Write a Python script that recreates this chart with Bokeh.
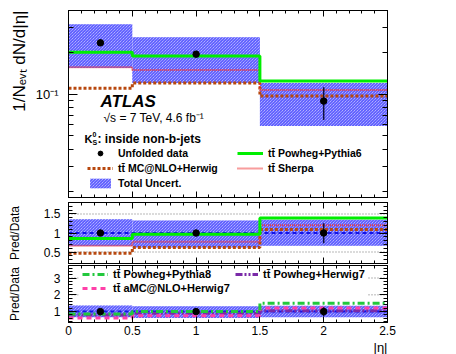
from bokeh.plotting import figure
from bokeh.layouts import column
from bokeh.models import (LinearAxis, LogAxis, FixedTicker, Label, Legend,
                          LegendItem, Span, BoxAnnotation, Range1d, Title)
from bokeh.embed import file_html
from bokeh.resources import INLINE
import math

# ---------------- data ----------------
eta_edges = [0.0, 0.5, 1.5, 2.5]
eta_centers = [0.25, 1.0, 2.0]
data = [0.234, 0.194, 0.089]
data_err_lo = [0.012, 0.010, 0.024]
data_err_hi = [0.012, 0.010, 0.023]
unc_lo = [0.154, 0.120, 0.059]
unc_hi = [0.319, 0.257, 0.120]
powheg_pythia6 = [0.200, 0.188, 0.124]
mcnlo_herwig = [0.110, 0.120, 0.097]
sherpa = [0.156, 0.149, 0.107]
# predictions shown only as ratios (lower panel)
r_powheg_pythia8 = [0.85, 1.00, 1.50]
r_amcnlo_herwig7 = [0.62, 0.75, 1.22]
r_powheg_herwig7 = [0.80, 0.90, 1.05]

x_major = [0, 0.5, 1, 1.5, 2, 2.5]
x_labels = {0: "0", 0.5: "0.5", 1: "1", 1.5: "1.5", 2: "2", 2.5: "2.5"}
y_main_major = [0.1]
y_main_minor = [0.02, 0.03, 0.04, 0.05, 0.06, 0.07, 0.08, 0.09, 0.2, 0.3, 0.4]
y_main_labels = {0.1: "10\u207b\u00b9"}
y_r1_major = [0.5, 1, 1.5]
y_r1_labels = {0.5: "0.5", 1: "1", 1.5: "1.5"}
y_r2_major = [1, 2, 3]
y_r2_labels = {1: "1", 2: "2", 3: "3"}

TT = "tt\u0304"
FONT = "Liberation Sans"
Y_TITLE = "1/N\u2091\u1d65\u209c dN/d|\u03b7|"
RATIO_TITLE = "Pred/Data"
X_TITLE = "|\u03b7|"

C_BAND_FILL = "#dadaff"
C_BAND_HATCH = "#3a3aff"
C_PY6 = "#00ee00"
C_MC = "#b8480e"
C_SH = "#f03a3a"
C_BLUE = "#1414e6"
C_PY8 = "#22c83c"
C_AMC = "#ff40a8"
C_PH7 = "#7a2aa8"
C_GRAY = "#a0a0a0"

# layout (page pixels)
FR_L, FR_R = 68, 387
M_TOP, M_BOT = 10, 197
R1_TOP, R1_BOT = 202, 263
R2_TOP, R2_BOT = 265, 325
XR = (0.0, 2.5)
YM = (0.018, 0.4)
YR1 = (0.2, 1.8)
YR2 = (0.35, 3.75)


def stepy(vals):
    v = list(vals)
    return v + [v[-1]]


def ratio(vals):
    return [v / d for v, d in zip(vals, data)]


# helpers that turn a page-pixel placement into axis units (text placement only)
def fx(px):
    return XR[0] + (px - FR_L) / (FR_R - FR_L) * (XR[1] - XR[0])


def fy_log(py):
    l0, l1 = math.log10(YM[0]), math.log10(YM[1])
    return 10 ** (l1 - (py - M_TOP) / (M_BOT - M_TOP) * (l1 - l0))


def fy_lin(py, top, bot, rng):
    return rng[1] - (py - top) / (bot - top) * (rng[1] - rng[0])


x_minor = [round(0.1 * i, 1) for i in range(26)]
xr = Range1d(*XR)


def base_fig(height, y_range, top, bottom, log=False):
    p = figure(width=456, height=height, x_range=xr, y_range=y_range,
               y_axis_type="log" if log else "linear", title=None,
               output_backend="svg", toolbar_location=None,
               min_border_left=FR_L, min_border_right=456 - FR_R,
               min_border_top=top, min_border_bottom=bottom)
    p.grid.visible = False
    p.outline_line_color = "black"
    p.outline_line_width = 1
    p.background_fill_color = "white"
    p.border_fill_color = "white"
    return p


def style_axis(ax, ticker, major_in, minor_in, labels=None, size="12px", standoff=3):
    ax.ticker = ticker
    ax.major_tick_in = major_in
    ax.major_tick_out = 0
    ax.minor_tick_in = minor_in
    ax.minor_tick_out = 0
    ax.axis_line_color = "black"
    ax.major_tick_line_color = "black"
    ax.minor_tick_line_color = "black"
    if labels is not None:
        ax.major_label_overrides = labels
        ax.major_label_text_font = FONT
        ax.major_label_text_font_size = size
        ax.major_label_text_color = "black"
        ax.major_label_standoff = standoff
    else:
        ax.major_label_text_font_size = "1px"
        ax.major_label_text_alpha = 0
        ax.major_label_standoff = 0


def add_frame_axes(p, yticker, ymaj, ymin, ylabels, xlabels=None, log=False, ysize="12px", ystand=8):
    xt = FixedTicker(ticks=x_major, minor_ticks=x_minor)
    style_axis(p.xaxis[0], xt, 6, 3, xlabels, "12px", 3)
    style_axis(p.yaxis[0], yticker, ymaj, ymin, ylabels, ysize, ystand)
    top = LinearAxis()
    style_axis(top, FixedTicker(ticks=x_major, minor_ticks=x_minor), 6, 3, None)
    p.add_layout(top, "above")
    right = LogAxis() if log else LinearAxis()
    style_axis(right, yticker, ymaj, ymin, None)
    p.add_layout(right, "right")


def set_ylabel(p, text, standoff):
    ax = p.yaxis[0]
    ax.axis_label = text
    ax.axis_label_text_font = FONT
    ax.axis_label_text_font_size = "12px"
    ax.axis_label_text_font_style = "normal"
    ax.axis_label_text_color = "black"
    ax.axis_label_standoff = standoff


def mk_label(p, text, x, y, size, style="normal", align="left", angle=0.0, baseline="middle"):
    p.add_layout(Label(x=x, y=y, text=text,
                       text_font=FONT, text_font_size=size, text_font_style=style,
                       text_align=align, text_baseline=baseline, angle=angle,
                       text_color="black"))


def mk_legend(p, items, x, y, size, gw, gh, spacing):
    # location = bottom-left corner of the legend, in px from the frame's bottom-left
    lg = Legend(items=items, location=(x, y), orientation="vertical",
                padding=0, margin=0, spacing=spacing,
                glyph_width=gw, glyph_height=gh, label_height=gh,
                label_standoff=5, label_text_font=FONT,
                label_text_font_size=size, label_text_font_style="bold",
                label_text_color="black",
                border_line_alpha=0, background_fill_alpha=0)
    p.add_layout(lg)
    return lg


band_kw = dict(fill_color=C_BAND_FILL, line_alpha=0, hatch_pattern="\\",
               hatch_color=C_BAND_HATCH, hatch_scale=3.0, hatch_weight=1.0)
err_kw = dict(line_color="#101040", line_width=1.5)

# ---------------- main panel ----------------
p1 = base_fig(199, Range1d(*YM), M_TOP, 2, log=True)
add_frame_axes(p1, FixedTicker(ticks=y_main_major, minor_ticks=y_main_minor), 9, 5,
               y_main_labels, None, log=True, ysize="13px", ystand=10)
p1.add_layout(Title(text=Y_TITLE, align="right", text_font=FONT, text_font_size="17px",
                    text_font_style="normal", text_color="black", standoff=8), "left")

r_band = p1.quad(left=eta_edges[:-1], right=eta_edges[1:], bottom=unc_lo, top=unc_hi, **band_kw)
r_mc = p1.step(x=eta_edges, y=stepy(mcnlo_herwig), mode="after", line_color=C_MC, line_width=3, line_dash="3 2")
r_sh = p1.step(x=eta_edges, y=stepy(sherpa), mode="after", line_color=C_SH, line_width=2, line_dash="1 1")
r_py6 = p1.step(x=eta_edges, y=stepy(powheg_pythia6), mode="after", line_color=C_PY6, line_width=3)
p1.segment(x0=eta_centers, x1=eta_centers,
           y0=[d - e for d, e in zip(data, data_err_lo)],
           y1=[d + e for d, e in zip(data, data_err_hi)], **err_kw)
r_data = p1.scatter(x=eta_centers, y=data, size=6.5, color="black")

mk_legend(p1, [LegendItem(label="Unfolded data", renderers=[r_data]),
               LegendItem(label=TT + " MC@NLO+Herwig", renderers=[r_mc]),
               LegendItem(label="Total Uncert.", renderers=[r_band])],
          87 - FR_L, M_BOT - 189, "10.5px", 26, 12, 3)
mk_legend(p1, [LegendItem(label=TT + " Powheg+Pythia6", renderers=[r_py6]),
               LegendItem(label=TT + " Sherpa", renderers=[r_sh])],
          237 - FR_L, M_BOT - 174, "10.5px", 26, 12, 3)

mk_label(p1, "ATLAS", fx(100), fy_log(101), "17px", "bold italic")
mk_label(p1, "\u221as = 7 TeV, 4.6 fb\u207b\u00b9", fx(103), fy_log(117), "12px")
mk_label(p1, "K", fx(84), fy_log(138), "11px", "bold")
mk_label(p1, "0", fx(92), fy_log(134), "7px", "bold")
mk_label(p1, "S", fx(92), fy_log(142), "7px", "bold")
mk_label(p1, ": inside non-b-jets", fx(97), fy_log(138), "12px", "bold")

# ---------------- ratio panel 1 ----------------
p2 = base_fig(65, Range1d(*YR1), R1_TOP - 199, 1)
add_frame_axes(p2, FixedTicker(ticks=y_r1_major, minor_ticks=[round(0.1 * i, 1) for i in range(2, 19)]),
               8, 4, y_r1_labels, None, ysize="12px", ystand=8)
set_ylabel(p2, RATIO_TITLE, 19)
for loc in (1.5, 0.5):
    p2.add_layout(Span(location=loc, dimension="width", line_color=C_GRAY,
                       line_dash="1 2", line_width=1.5, level="underlay"))
p2.quad(left=eta_edges[:-1], right=eta_edges[1:], bottom=ratio(unc_lo), top=ratio(unc_hi), **band_kw)
p2.step(x=eta_edges, y=stepy(ratio(data)), mode="after", line_color=C_BLUE, line_width=2, line_dash="4 3")
p2.step(x=eta_edges, y=stepy(ratio(mcnlo_herwig)), mode="after", line_color=C_MC, line_width=3, line_dash="3 2")
p2.step(x=eta_edges, y=stepy(ratio(sherpa)), mode="after", line_color=C_SH, line_width=2, line_dash="1 1")
p2.step(x=eta_edges, y=stepy(ratio(powheg_pythia6)), mode="after", line_color=C_PY6, line_width=3)
p2.segment(x0=eta_centers, x1=eta_centers,
           y0=[1 - e / d for d, e in zip(data, data_err_lo)],
           y1=[1 + e / d for d, e in zip(data, data_err_hi)], **err_kw)
p2.scatter(x=eta_centers, y=ratio(data), size=6.5, color="black")

# ---------------- ratio panel 2 ----------------
p3 = base_fig(90, Range1d(*YR2), R2_TOP - 264, 354 - R2_BOT)
add_frame_axes(p3, FixedTicker(ticks=y_r2_major, minor_ticks=[round(0.2 * i, 1) for i in range(2, 19)]),
               8, 4, y_r2_labels, x_labels, ysize="12px", ystand=8)
set_ylabel(p3, RATIO_TITLE, 29)
p3.add_layout(Title(text=X_TITLE, align="right", text_font=FONT, text_font_size="13px",
                    text_font_style="normal", text_color="black", standoff=0), "below")
for loc in (3, 2):
    p3.add_layout(Span(location=loc, dimension="width", line_color=C_GRAY,
                       line_dash="1 2", line_width=1.5, level="underlay"))
p3.add_layout(BoxAnnotation(left=fx(78), right=fx(367),
                            bottom=fy_lin(301, R2_TOP, R2_BOT, YR2),
                            top=fy_lin(267, R2_TOP, R2_BOT, YR2),
                            fill_color="white", fill_alpha=1.0, line_alpha=0,
                            level="underlay"))
p3.quad(left=eta_edges[:-1], right=eta_edges[1:], bottom=ratio(unc_lo), top=ratio(unc_hi), **band_kw)
p3.step(x=eta_edges, y=stepy(ratio(data)), mode="after", line_color=C_BLUE, line_width=2, line_dash="4 3")
r_ph7 = p3.step(x=eta_edges, y=stepy(r_powheg_herwig7), mode="after", line_color=C_PH7, line_width=3, line_dash="7 2 2 2 2 2")
r_amc = p3.step(x=eta_edges, y=stepy(r_amcnlo_herwig7), mode="after", line_color=C_AMC, line_width=3, line_dash="5 4")
r_py8 = p3.step(x=eta_edges, y=stepy(r_powheg_pythia8), mode="after", line_color=C_PY8, line_width=3, line_dash="7 3 2 3")
p3.segment(x0=eta_centers, x1=eta_centers,
           y0=[1 - e / d for d, e in zip(data, data_err_lo)],
           y1=[1 + e / d for d, e in zip(data, data_err_hi)], **err_kw)
p3.scatter(x=eta_centers, y=ratio(data), size=6.5, color="black")
mk_legend(p3, [LegendItem(label=TT + " Powheg+Pythia8", renderers=[r_py8]),
               LegendItem(label=TT + " aMC@NLO+Herwig7", renderers=[r_amc])],
          82 - FR_L, R2_BOT - 297, "11px", 26, 12, 2)
mk_legend(p3, [LegendItem(label=TT + " Powheg+Herwig7", renderers=[r_ph7])],
          235 - FR_L, R2_BOT - 283, "11px", 23, 12, 2)

layout = column(p1, p2, p3, spacing=0)
open("out.html", "w").write(file_html(layout, INLINE))
